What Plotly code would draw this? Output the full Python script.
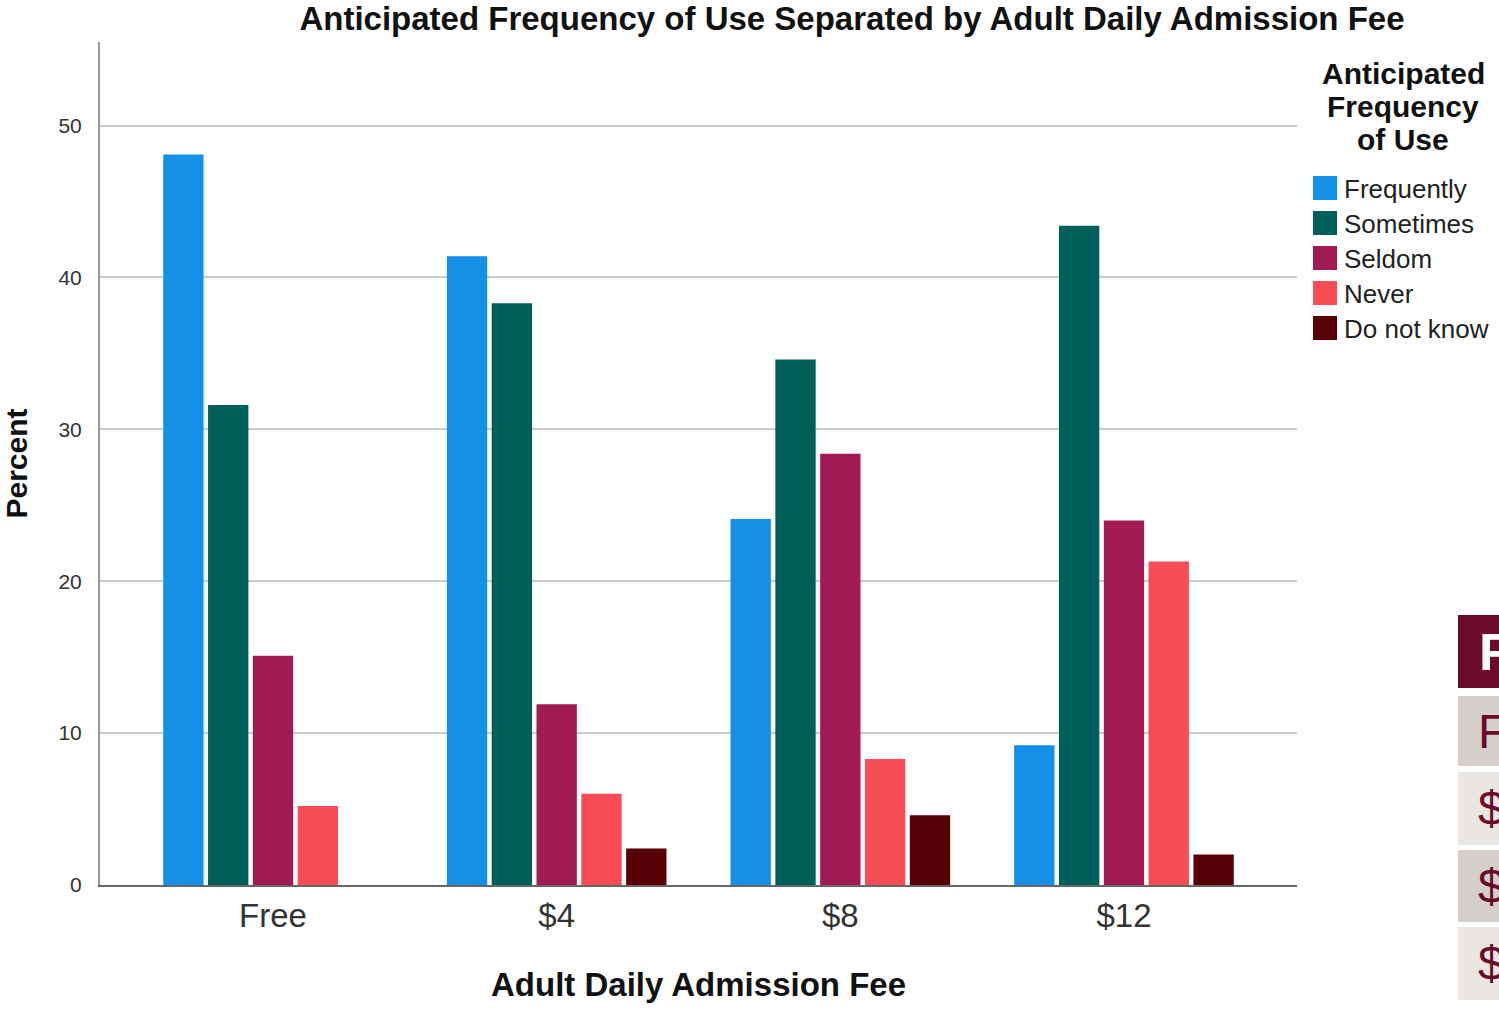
import plotly.graph_objects as go

# ---- data ----
fees = ["Free", "$4", "$8", "$12"]
frequency_levels = ["Frequently", "Sometimes", "Seldom", "Never", "Do not know"]
frequently = [48.1, 41.4, 24.1, 9.2]
sometimes = [31.6, 38.3, 34.6, 43.4]
seldom = [15.1, 11.9, 28.4, 24.0]
never = [5.2, 6.0, 8.3, 21.3]
do_not_know = [0.0, 2.4, 4.6, 2.0]
y_ticks = [0, 10, 20, 30, 40, 50]

title_text = "Anticipated Frequency of Use Separated by Adult Daily Admission Fee"
x_title = "Adult Daily Admission Fee"
y_title = "Percent"
legend_title_lines = ["Anticipated", "Frequency", "of Use"]
table_header = "Fee"
table_rows = ["Free", "$4", "$8", "$12"]

series = [frequently, sometimes, seldom, never, do_not_know]
colors = ["#1490e6", "#015f5b", "#a11a53", "#f84d56", "#570008"]

FONT = "Liberation Sans, Arial, sans-serif"
W, H = 1499, 1010
L, R, T, B = 100, 202, 42, 125
PW, PH = W - L - R, H - T - B


def px(x):
    return (x - L) / PW


def py(y):
    return (H - B - y) / PH


fig = go.Figure()
for name, vals, col in zip(frequency_levels, series, colors):
    fig.add_trace(go.Bar(
        x=fees, y=vals, name=name, marker=dict(color=col, line=dict(width=0)),
        showlegend=False,
    ))

shapes = []
annotations = []

# manual legend
for i, line in enumerate(legend_title_lines):
    annotations.append(dict(
        text=f"<b>{line}</b>", x=px(1403), y=py(73 + i * 33.5), xref="paper", yref="paper",
        xanchor="center", yanchor="middle", showarrow=False,
        font=dict(family=FONT, size=30, color="#111111"),
    ))
for i, (name, col) in enumerate(zip(frequency_levels, colors)):
    cy = 188 + i * 35
    shapes.append(dict(type="rect", xref="paper", yref="paper",
                       x0=px(1313), x1=px(1337), y0=py(cy - 12), y1=py(cy + 12),
                       fillcolor=col, line=dict(width=0)))
    annotations.append(dict(
        text=name, x=px(1342), y=py(cy + 1), xref="paper", yref="paper",
        xanchor="left", yanchor="middle", showarrow=False,
        font=dict(family=FONT, size=26, color="#222222"),
    ))

# partially visible table at the right edge
shapes.append(dict(type="rect", xref="paper", yref="paper",
                   x0=px(1458), x1=px(1510), y0=py(688), y1=py(615),
                   fillcolor="#690a2b", line=dict(width=0)))
annotations.append(dict(
    text=f"<b>{table_header}</b>", x=px(1477), y=py(652), xref="paper", yref="paper",
    xanchor="left", yanchor="middle", showarrow=False,
    font=dict(family=FONT, size=52, color="#ffffff"),
))
row_tops = [696, 772, 850, 927]
row_bots = [766, 845, 922, 1000]
row_cols = ["#d4cfcb", "#e9e6e3", "#d4cfcb", "#e9e6e3"]
for txt, t0, b0, c in zip(table_rows, row_tops, row_bots, row_cols):
    shapes.append(dict(type="rect", xref="paper", yref="paper",
                       x0=px(1458), x1=px(1510), y0=py(b0), y1=py(t0),
                       fillcolor=c, line=dict(width=0)))
    annotations.append(dict(
        text=txt, x=px(1476), y=py((t0 + b0) / 2), xref="paper", yref="paper",
        xanchor="left", yanchor="middle", showarrow=False,
        font=dict(family=FONT, size=48, color="#690a2b"),
    ))

fig.update_layout(
    width=W, height=H,
    margin=dict(l=L, r=R, t=T, b=B, autoexpand=False),
    paper_bgcolor="white", plot_bgcolor="white",
    barmode="group", bargap=0.21, bargroupgap=0.1,
    font=dict(family=FONT, color="#222222"),
    title=dict(text=f"<b>{title_text}</b>", x=852 / W, xref="container", xanchor="center",
               y=1 - 18 / H, yref="container", yanchor="middle",
               font=dict(family=FONT, size=33, color="#111111")),
    xaxis=dict(
        type="category", range=[-0.61, 3.61],
        showline=True, linecolor="#666666", linewidth=2,
        showgrid=False, ticks="", tickfont=dict(family=FONT, size=33, color="#333333"),
        title=dict(text=f"<b>{x_title}</b>", standoff=40,
                   font=dict(family=FONT, size=33, color="#111111")),
    ),
    yaxis=dict(
        range=[0, 55.5], tickvals=y_ticks, ticktext=[str(v) for v in y_ticks],
        showline=True, linecolor="#999999", linewidth=2,
        showgrid=True, gridcolor="#cbcbcb", gridwidth=2, zeroline=False,
        ticks="", ticklabelstandoff=12,
        tickfont=dict(family=FONT, size=21, color="#333333"),
        title=dict(text=f"<b>{y_title}</b>", standoff=24,
                   font=dict(family=FONT, size=30, color="#111111")),
    ),
    shapes=shapes, annotations=annotations,
)

fig.write_html("out.html", config={"displayModeBar": False},
               post_script="document.body.style.margin='0';document.body.style.overflow='hidden';")
